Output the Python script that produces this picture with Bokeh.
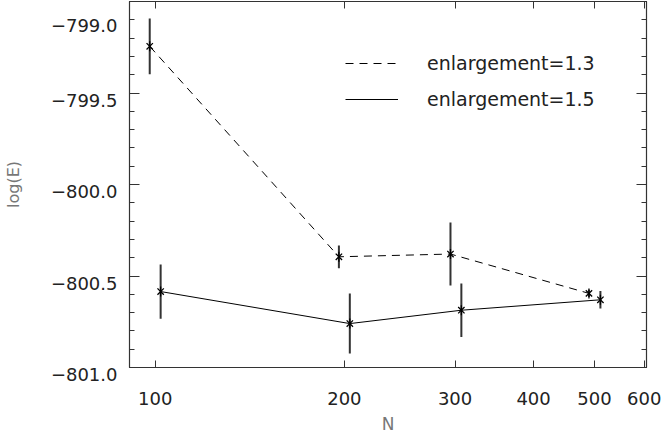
import numpy as np
from bokeh.plotting import figure
from bokeh.models import (Range1d, FixedTicker, LinearAxis, LogAxis, Legend,
                          LegendItem, ColumnDataSource, CustomLabelingPolicy)
from bokeh.embed import file_html
from bokeh.resources import INLINE

# ---- data ----
series_labels = ["enlargement=1.3", "enlargement=1.5"]
n_13 = [98, 196, 295, 490]
loge_13 = [-799.245, -800.395, -800.38, -800.595]
err_13 = [0.152, 0.062, 0.172, 0.02]
n_15 = [102, 204, 307, 511]
loge_15 = [-800.585, -800.76, -800.687, -800.63]
err_15 = [0.148, 0.164, 0.146, 0.048]

x_ticks = [100, 200, 300, 400, 500, 600]
x_tick_labels = ["100", "200", "300", "400", "500", "600"]
y_ticks = [-801.0, -800.5, -800.0, -799.5, -799.0]
y_tick_labels = ["\u2212801.0", "\u2212800.5", "\u2212800.0", "\u2212799.5", "\u2212799.0"]
y_minor = [round(-801.0 + 0.1 * i, 1) for i in range(21)]

FONT = "DejaVu Sans"
AX = "#333333"

p = figure(frame_width=517, frame_height=366,
           min_border_left=123, min_border_top=1, min_border_right=20, min_border_bottom=54,
           x_axis_type="log", x_range=Range1d(91, 605), y_range=Range1d(-801.0, -799.0),
           output_backend="svg", toolbar_location=None)
p.xgrid.grid_line_color = None
p.ygrid.grid_line_color = None
p.outline_line_color = AX
p.outline_line_width = 1.2
p.background_fill_color = "white"
p.border_fill_color = "white"

xt = FixedTicker(ticks=x_ticks, minor_ticks=[])
yt = FixedTicker(ticks=y_ticks, minor_ticks=y_minor)

# bottom axis
xa = p.xaxis[0]
xa.ticker = xt
xa.major_label_overrides = dict(zip(x_ticks, x_tick_labels))
xa.major_tick_in = 7
xa.major_tick_out = 0
xa.minor_tick_line_color = None
xa.axis_line_color = AX
xa.major_tick_line_color = AX
xa.major_label_standoff = 24
xa.major_label_text_font = FONT
xa.major_label_text_font_size = "18px"
xa.major_label_text_color = "#222222"
xa.axis_label = "N"
xa.axis_label_text_font = FONT
xa.axis_label_text_font_size = "17px"
xa.axis_label_text_font_style = "normal"
xa.axis_label_text_color = "#777777"
xa.axis_label_standoff = 6

# left axis (labels sit a little below their ticks, as in the reference)
ya = p.yaxis[0]
ya.ticker = yt
ya.major_label_overrides = {t: "\u00a0\n" + s for t, s in zip(y_ticks, y_tick_labels)}
ya.major_tick_in = 10
ya.major_tick_out = 0
ya.minor_tick_in = 5
ya.minor_tick_out = 0
ya.axis_line_color = AX
ya.major_tick_line_color = AX
ya.minor_tick_line_color = AX
ya.major_label_standoff = 12
ya.major_label_text_font = FONT
ya.major_label_text_font_size = "18px"
ya.major_label_text_line_height = 0.7
ya.major_label_text_color = "#222222"
ya.axis_label = "log(E)"
ya.axis_label_text_font = FONT
ya.axis_label_text_font_size = "16px"
ya.axis_label_text_font_style = "normal"
ya.axis_label_text_color = "#777777"
ya.axis_label_standoff = 25

# mirrored axes (ticks only, no labels drawn)
hide = CustomLabelingPolicy(code="for (const i of indices) { indices.unset(i) }\nreturn indices")
top = LogAxis(ticker=xt, major_tick_in=7, major_tick_out=0, minor_tick_line_color=None,
              major_label_text_font_size="0px", major_label_standoff=0, major_label_policy=hide,
              axis_line_color=AX, major_tick_line_color=AX)
right = LinearAxis(ticker=yt, major_tick_in=10, major_tick_out=0, minor_tick_in=5, minor_tick_out=0,
                   major_label_text_font_size="0px", major_label_standoff=0, major_label_policy=hide,
                   axis_line_color=AX, major_tick_line_color=AX, minor_tick_line_color=AX)
p.add_layout(top, "above")
p.add_layout(right, "right")

def add_series(n, v, e, dash):
    src = ColumnDataSource(dict(x=n, y=v,
                                lo=[a - b for a, b in zip(v, e)],
                                hi=[a + b for a, b in zip(v, e)]))
    ln = p.line("x", "y", source=src, line_color="black", line_width=1, line_dash=dash)
    p.segment("x", "lo", "x", "hi", source=src, line_color="#333333", line_width=2)
    p.scatter("x", "y", source=src, marker="x", size=9, line_color="black", line_width=1.3)
    p.scatter("x", "y", source=src, marker="dash", angle=np.pi / 2, size=10,
              line_color="black", line_width=1.3)
    return ln

l13 = add_series(n_13, loge_13, err_13, "8 6")
l15 = add_series(n_15, loge_15, err_15, "solid")

legend = Legend(items=[LegendItem(label=series_labels[0], renderers=[l13]),
                       LegendItem(label=series_labels[1], renderers=[l15])],
                location=(216, 257), glyph_width=53, glyph_height=20, label_height=20,
                label_width=10, spacing=14, label_standoff=29, padding=0, margin=0,
                border_line_color=None, background_fill_alpha=0,
                label_text_font=FONT, label_text_font_size="19px", label_text_color="#222222")
p.add_layout(legend)

open("out.html", "w").write(file_html(p, INLINE))
